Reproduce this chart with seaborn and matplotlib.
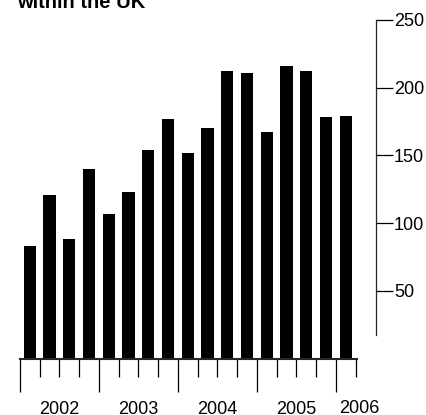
import numpy as np
import pandas as pd
import matplotlib
matplotlib.use("Agg")
import matplotlib.pyplot as plt
import matplotlib.transforms as mtransforms
import seaborn as sns

# quarterly values, 2002 Q1 .. 2006 Q1
quarters = ["2002Q1", "2002Q2", "2002Q3", "2002Q4",
            "2003Q1", "2003Q2", "2003Q3", "2003Q4",
            "2004Q1", "2004Q2", "2004Q3", "2004Q4",
            "2005Q1", "2005Q2", "2005Q3", "2005Q4",
            "2006Q1"]
values = [83, 121, 88, 140, 107, 123, 154, 177, 152, 170,
          212, 211, 167, 216, 212, 178, 179]
years = ["2002", "2003", "2004", "2005", "2006"]
yticks = [50, 100, 150, 200, 250]

df = pd.DataFrame({"quarter": quarters, "value": values})

sns.set_theme(style="white")
plt.rcParams["font.family"] = ["Liberation Sans", "DejaVu Sans"]

fig = plt.figure(figsize=(4.27, 4.15), dpi=100)
ax = fig.add_axes([20 / 427, (415 - 358.5) / 415, 356 / 427, 338.5 / 415])

sns.barplot(data=df, x="quarter", y="value", order=quarters, color="black",
            width=0.62, saturation=1, linewidth=0, ax=ax)

n = len(quarters)
ax.set_xlim(-0.5, 17.53)
ax.set_ylim(0, 250)
ax.set_xlabel("")
ax.set_ylabel("")

# spines
ax.spines["left"].set_visible(False)
ax.spines["top"].set_visible(False)
ax.spines["bottom"].set_linewidth(1.5)
ax.spines["bottom"].set_bounds(-0.5, n - 0.45)
ax.spines["right"].set_linewidth(0.9)
ax.spines["right"].set_bounds(17, 250)

# x ticks: long at year boundaries, short at quarter boundaries
bounds = np.arange(n + 1) - 0.5
major = [b for i, b in enumerate(bounds) if i % 4 == 0 and i < n]
minor = [b for i, b in enumerate(bounds) if not (i % 4 == 0 and i < n)]
ax.set_xticks(major)
ax.set_xticks(minor, minor=True)
ax.set_xticklabels([])
ax.tick_params(axis="x", which="major", direction="out", length=24, width=0.9,
               color="black", bottom=True)
ax.tick_params(axis="x", which="minor", direction="out", length=13, width=0.9,
               color="black", bottom=True)

# y axis on the right
ax.yaxis.tick_right()
ax.set_yticks(yticks)
ax.set_yticklabels([str(t) for t in yticks])
ax.tick_params(axis="y", which="major", direction="out", length=12, width=0.9,
               color="black", pad=1, labelsize=13, labelcolor="black",
               right=True, left=False)

# year labels under each year block
trans = mtransforms.blended_transform_factory(ax.transData, ax.transAxes)
year_x = [1.5, 5.5, 9.5, 13.5, 16.66]
year_y = [-0.165, -0.165, -0.165, -0.165, -0.161]
for yr, xx, yy in zip(years, year_x, year_y):
    ax.text(xx, yy, yr, transform=trans, ha="center", va="baseline",
            fontsize=13, color="black")

fig.text(17 / 427, (415 - 8) / 415, "within the UK", ha="left", va="baseline",
         fontsize=14.5, fontweight="bold", color="black")

fig.savefig("out.png", dpi=100)
